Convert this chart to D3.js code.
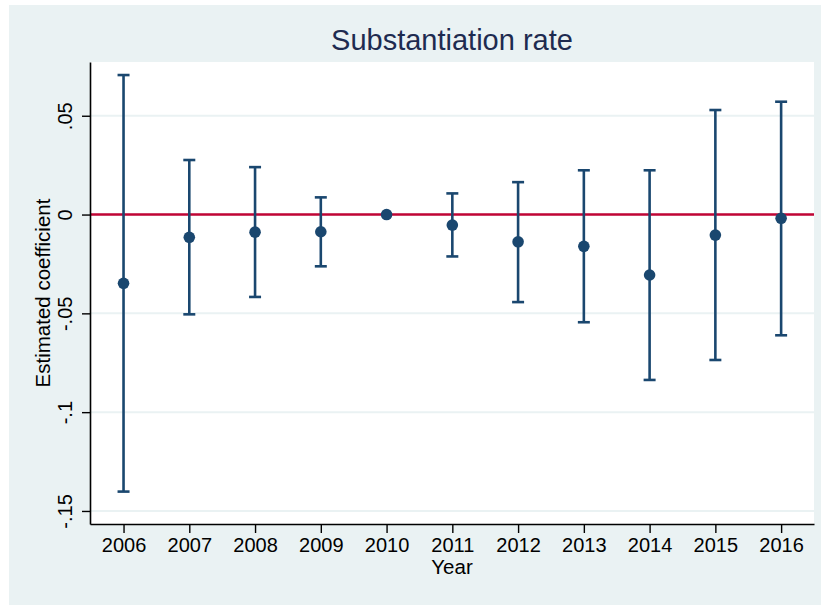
<!DOCTYPE html>
<html>
<head>
<meta charset="utf-8">
<script src="https://cdn.jsdelivr.net/npm/d3@7"></script>
<style>
  html, body { margin: 0; padding: 0; background: #ffffff; }
  svg { display: block; font-family: "Liberation Sans", Arial, sans-serif; }
</style>
</head>
<body>
<svg id="chart" width="821" height="605"></svg>
<script>
// Event-study coefficients with 95% confidence intervals (2010 = reference year)
const years = [2006, 2007, 2008, 2009, 2010, 2011, 2012, 2013, 2014, 2015, 2016];
const estimates = [-0.0348, -0.0115, -0.0089, -0.0087, 0, -0.0053, -0.0138, -0.0161, -0.0306, -0.0104, -0.0019];
const upper = [0.0706, 0.0276, 0.0240, 0.0087, 0, 0.0107, 0.0164, 0.0224, 0.0224, 0.0529, 0.0571];
const lower = [-0.1402, -0.0505, -0.0417, -0.0262, 0, -0.0212, -0.0443, -0.0545, -0.0837, -0.0736, -0.0611];

const yTickValues = [0.05, 0, -0.05, -0.1, -0.15];
const yTickLabels = [".05", "0", "-.05", "-.1", "-.15"];
const xTickLabels = years.map(String);

const titleText = "Substantiation rate";
const xTitle = "Year";
const yTitle = "Estimated coefficient";

const navy = "#1a476f";
const cranberry = "#c10534";
const panelBg = "#eaf2f3";

const svg = d3.select("#chart");

// outer graph region
svg.append("rect")
  .attr("x", 9).attr("y", 5)
  .attr("width", 812).attr("height", 600)
  .attr("fill", panelBg);

const plot = { left: 90, right: 814, top: 62, bottom: 524 };

// plot region
svg.append("rect")
  .attr("x", plot.left).attr("y", plot.top)
  .attr("width", plot.right - plot.left).attr("height", plot.bottom - plot.top)
  .attr("fill", "#ffffff");

const x = d3.scaleLinear().domain([2005.49, 2016.5]).range([plot.left, plot.right]);
const y = d3.scaleLinear().domain([-0.1566, 0.0772]).range([plot.bottom, plot.top]);

// horizontal grid lines
svg.append("g")
  .selectAll("line")
  .data(yTickValues)
  .join("line")
  .attr("x1", plot.left).attr("x2", plot.right)
  .attr("y1", d => y(d)).attr("y2", d => y(d))
  .attr("stroke", panelBg)
  .attr("stroke-width", 2);

// zero reference line
svg.append("line")
  .attr("x1", plot.left).attr("x2", plot.right)
  .attr("y1", y(0)).attr("y2", y(0))
  .attr("stroke", cranberry)
  .attr("stroke-width", 2.5);

// confidence intervals
const rows = years.map((yr, i) => ({ yr, est: estimates[i], lo: lower[i], hi: upper[i] }));
const ci = rows.filter(d => d.hi !== d.lo);
const capHalf = 6;

const bars = svg.append("g")
  .attr("stroke", navy)
  .attr("stroke-width", 2.6)
  .attr("fill", "none");

bars.selectAll("line.stem")
  .data(ci)
  .join("line")
  .attr("class", "stem")
  .attr("x1", d => x(d.yr)).attr("x2", d => x(d.yr))
  .attr("y1", d => y(d.lo)).attr("y2", d => y(d.hi));

bars.selectAll("line.capHi")
  .data(ci)
  .join("line")
  .attr("class", "capHi")
  .attr("x1", d => x(d.yr) - capHalf).attr("x2", d => x(d.yr) + capHalf)
  .attr("y1", d => y(d.hi)).attr("y2", d => y(d.hi));

bars.selectAll("line.capLo")
  .data(ci)
  .join("line")
  .attr("class", "capLo")
  .attr("x1", d => x(d.yr) - capHalf).attr("x2", d => x(d.yr) + capHalf)
  .attr("y1", d => y(d.lo)).attr("y2", d => y(d.lo));

// point estimates
svg.append("g")
  .selectAll("circle")
  .data(rows)
  .join("circle")
  .attr("cx", d => x(d.yr))
  .attr("cy", d => y(d.est))
  .attr("r", 5.8)
  .attr("fill", navy);

// y axis
const yAxis = svg.append("g")
  .attr("transform", `translate(${plot.left},0)`)
  .call(d3.axisLeft(y)
    .tickValues(yTickValues)
    .tickFormat((d, i) => yTickLabels[i])
    .tickSize(8)
    .tickSizeOuter(0));

yAxis.selectAll("text")
  .attr("x", 0)
  .attr("y", -18)
  .attr("dy", 0)
  .attr("transform", "rotate(-90)")
  .attr("text-anchor", "middle")
  .attr("fill", "#000")
  .style("font-size", "20px");

// x axis
const xAxis = svg.append("g")
  .attr("transform", `translate(0,${plot.bottom})`)
  .call(d3.axisBottom(x)
    .tickValues(years)
    .tickFormat((d, i) => xTickLabels[i])
    .tickSize(9)
    .tickSizeOuter(0));

xAxis.selectAll("text")
  .attr("y", 27.5)
  .attr("dy", 0)
  .attr("fill", "#000")
  .style("font-size", "20px");

[yAxis, xAxis].forEach(ax => {
  ax.select(".domain").attr("stroke", "#000").attr("stroke-width", 1.6);
  ax.selectAll(".tick line").attr("stroke", "#000").attr("stroke-width", 1.4);
});

// titles
svg.append("text")
  .attr("x", 452).attr("y", 50)
  .attr("text-anchor", "middle")
  .attr("fill", "#1e2b50")
  .style("font-size", "29px")
  .text(titleText);

svg.append("text")
  .attr("x", 452).attr("y", 574)
  .attr("text-anchor", "middle")
  .attr("fill", "#000")
  .style("font-size", "20.5px")
  .text(xTitle);

svg.append("text")
  .attr("transform", `translate(49.5,${(plot.top + plot.bottom) / 2}) rotate(-90)`)
  .attr("text-anchor", "middle")
  .attr("fill", "#000")
  .style("font-size", "20.5px")
  .text(yTitle);
</script>
</body>
</html>
